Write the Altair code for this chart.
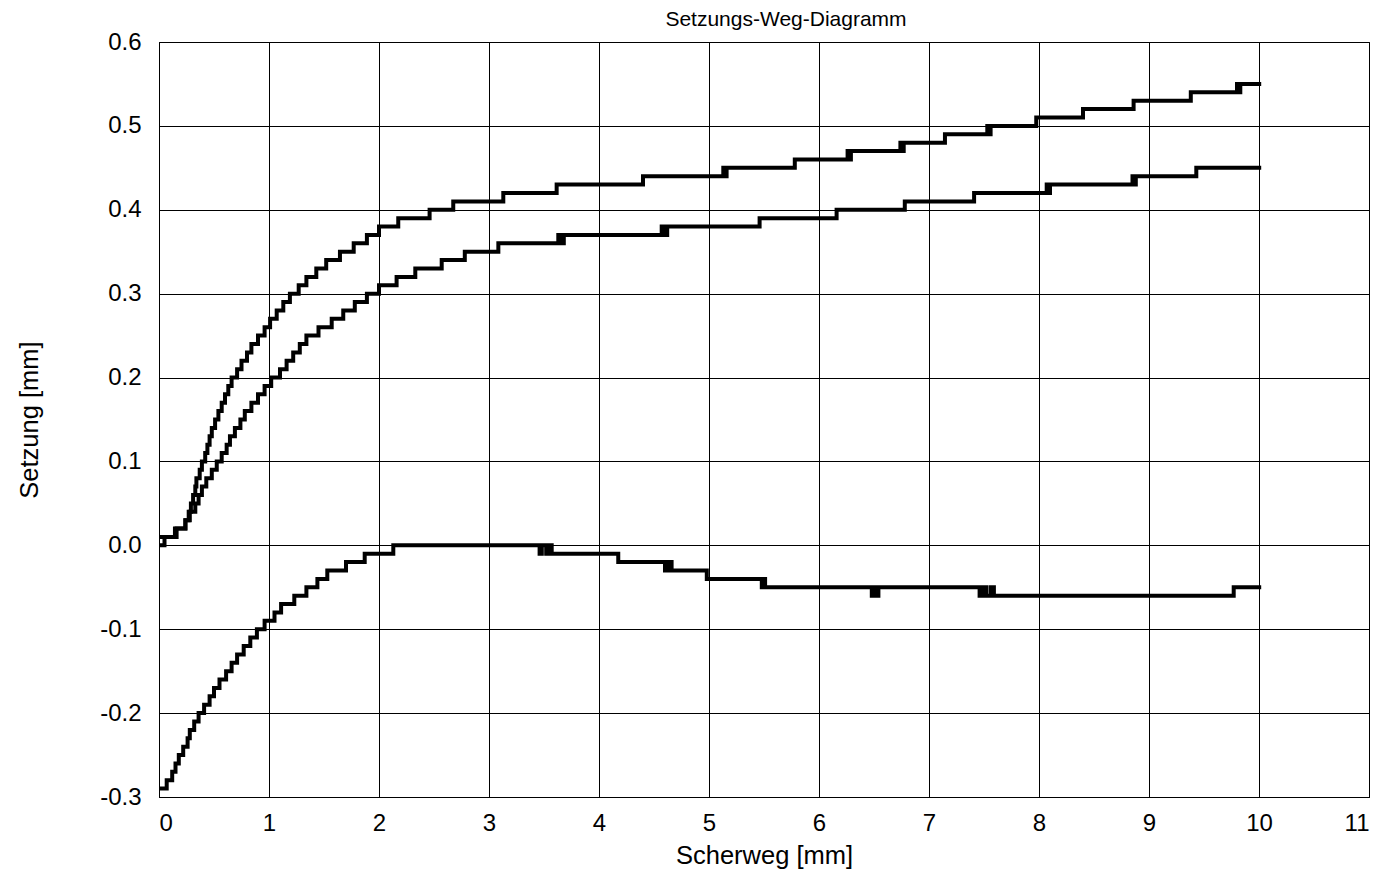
import altair as alt
import pandas as pd

# Shear path [mm] at which each settlement reading begins (readings held until the next one)
upper_x = [0.0, 0.145, 0.24, 0.27, 0.29, 0.31, 0.33, 0.34, 0.37, 0.39, 0.42, 0.44, 0.46,
           0.48, 0.51, 0.54, 0.57, 0.60, 0.63, 0.66, 0.71, 0.75, 0.80, 0.84, 0.90, 0.96,
           1.01, 1.07, 1.13, 1.19, 1.27, 1.34, 1.43, 1.52, 1.645, 1.77, 1.89, 2.0, 2.175,
           2.46, 2.675, 3.13, 3.615, 4.40, 5.13, 5.145, 5.16, 5.78, 6.26, 6.275, 6.29,
           6.74, 6.755, 6.77, 7.145, 7.53, 7.545, 7.56, 7.975, 8.40, 8.86, 9.38,
           9.80, 9.815, 9.83, 10.02]
upper_y = [0.01, 0.02, 0.03, 0.04, 0.05, 0.06, 0.07, 0.08, 0.09, 0.10, 0.11, 0.12, 0.13,
           0.14, 0.15, 0.16, 0.17, 0.18, 0.19, 0.20, 0.21, 0.22, 0.23, 0.24, 0.25, 0.26,
           0.27, 0.28, 0.29, 0.30, 0.31, 0.32, 0.33, 0.34, 0.35, 0.36, 0.37, 0.38, 0.39,
           0.40, 0.41, 0.42, 0.43, 0.44, 0.45, 0.44, 0.45, 0.46, 0.47, 0.46, 0.47,
           0.48, 0.47, 0.48, 0.49, 0.50, 0.49, 0.50, 0.51, 0.52, 0.53, 0.54,
           0.55, 0.54, 0.55, 0.55]

middle_x = [0.0, 0.05, 0.16, 0.24, 0.28, 0.33, 0.36, 0.39, 0.43, 0.48, 0.525, 0.57, 0.615,
            0.645, 0.69, 0.74, 0.78, 0.84, 0.90, 0.96, 1.02, 1.10, 1.16, 1.22, 1.28, 1.34,
            1.45, 1.57, 1.675, 1.78, 1.89, 2.0, 2.16, 2.33, 2.57, 2.78, 3.085, 3.63, 3.655,
            3.68, 4.57, 4.595, 4.62, 5.46, 6.16, 6.78, 7.41, 8.07, 8.085, 8.10, 8.85,
            8.865, 8.88, 9.43, 10.02]
middle_y = [0.00, 0.01, 0.02, 0.03, 0.04, 0.05, 0.06, 0.07, 0.08, 0.09, 0.10, 0.11, 0.12,
            0.13, 0.14, 0.15, 0.16, 0.17, 0.18, 0.19, 0.20, 0.21, 0.22, 0.23, 0.24, 0.25,
            0.26, 0.27, 0.28, 0.29, 0.30, 0.31, 0.32, 0.33, 0.34, 0.35, 0.36, 0.37, 0.36,
            0.37, 0.38, 0.37, 0.38, 0.39, 0.40, 0.41, 0.42, 0.43, 0.42, 0.43, 0.44,
            0.43, 0.44, 0.45, 0.45]

lower_x = [0.0, 0.07, 0.12, 0.15, 0.18, 0.22, 0.26, 0.28, 0.32, 0.36, 0.41, 0.46, 0.50,
           0.55, 0.61, 0.66, 0.71, 0.77, 0.83, 0.89, 0.96, 1.05, 1.11, 1.23, 1.34, 1.44,
           1.53, 1.70, 1.87, 2.13, 3.46, 3.48, 3.52, 3.55, 3.57, 4.175, 4.60, 4.625,
           4.66, 4.98, 5.48, 5.495, 5.51, 6.48, 6.50, 6.52, 6.54, 7.46, 7.49, 7.52,
           7.56, 7.59, 9.77, 10.02]
lower_y = [-0.29, -0.28, -0.27, -0.26, -0.25, -0.24, -0.23, -0.22, -0.21, -0.20, -0.19,
           -0.18, -0.17, -0.16, -0.15, -0.14, -0.13, -0.12, -0.11, -0.10, -0.09, -0.08,
           -0.07, -0.06, -0.05, -0.04, -0.03, -0.02, -0.01, 0.00, -0.01, 0.00, -0.01,
           0.00, -0.01, -0.02, -0.03, -0.02, -0.03, -0.04, -0.05, -0.04, -0.05, -0.06,
           -0.05, -0.06, -0.05, -0.06, -0.05, -0.06, -0.05, -0.06, -0.05, -0.05]

x_ticks = [0, 1, 2, 3, 4, 5, 6, 7, 8, 9, 10, 11]
y_ticks = [-0.3, -0.2, -0.1, 0.0, 0.1, 0.2, 0.3, 0.4, 0.5, 0.6]

frames = []
for name, xs, ys in [("upper", upper_x, upper_y),
                     ("middle", middle_x, middle_y),
                     ("lower", lower_x, lower_y)]:
    frames.append(pd.DataFrame({"series": name, "order": range(len(xs)),
                                "scherweg": xs, "setzung": ys}))
df = pd.concat(frames, ignore_index=True)

FONT = "Liberation Sans"

chart = alt.Chart(df).mark_line(
    interpolate="step-after", color="black", strokeWidth=4, strokeJoin="miter"
).encode(
    x=alt.X("scherweg:Q", scale=alt.Scale(domain=[0, 11], nice=False),
            axis=alt.Axis(values=x_ticks, title="Scherweg [mm]", format="d")),
    y=alt.Y("setzung:Q", scale=alt.Scale(domain=[-0.3, 0.6], nice=False, zero=False),
            axis=alt.Axis(values=y_ticks, title="Setzung [mm]",
                          labelExpr="datum.value < -0.0001 ? '-' + format(-datum.value, '.1f') : format(datum.value, '.1f')")),
    detail="series:N",
    order="order:Q",
).properties(
    width=1210,
    height=755,
    title=alt.TitleParams("Setzungs-Weg-Diagramm", font=FONT, fontSize=21,
                          fontWeight="normal", color="black", anchor="middle",
                          offset=0, dx=22),
    autosize=alt.AutoSizeParams(type="none"),
    padding={"left": 159, "top": 42, "right": 13, "bottom": 80},
).configure_view(
    stroke="black", strokeWidth=1
).configure_axis(
    grid=True, gridColor="black", gridOpacity=1, gridWidth=1,
    domain=True, domainColor="black", domainWidth=1,
    ticks=False, labelFont=FONT, labelFontSize=24, labelColor="black",
    titleFont=FONT, titleFontSize=25.5, titleFontWeight="normal",
    titleColor="black",
).configure_axisX(
    labelPadding=14, titlePadding=8
).configure_axisY(
    labelPadding=18, titlePadding=57
)

chart.save("out.html", embed_options={"renderer": "svg", "actions": False})
